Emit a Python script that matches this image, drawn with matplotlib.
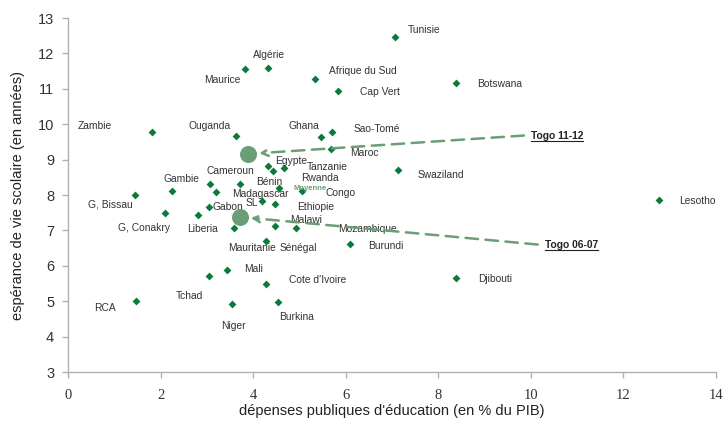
import matplotlib
matplotlib.use("Agg")
import matplotlib.pyplot as plt

# Country data: public education spending (% of GDP) vs school life expectancy (years)
countries = [
    "Tunisie", "Algérie", "Maurice", "Afrique du Sud", "Cap Vert", "Botswana",
    "Zambie", "Ouganda", "Ghana", "Sao-Tomé", "Maroc", "Cameroun", "Egypte",
    "Tanzanie", "Swaziland", "G, Bissau", "Gambie", "Rwanda", "Congo",
    "Madagascar", "Bénin", "Moyenne", "SL", "Ethiopie", "G, Conakry", "Liberia",
    "Gabon", "Mozambique", "Sénégal", "Malawi", "Mauritanie", "Burundi", "Mali",
    "Tchad", "Cote d'Ivoire", "RCA", "Niger", "Burkina", "Djibouti", "Lesotho",
]
spending = [
    7.06, 4.32, 3.82, 5.33, 5.83, 8.38,
    1.81, 3.63, 5.46, 5.70, 5.68, 4.32, 4.43,
    4.67, 7.13, 1.45, 2.25, 3.07, 3.20,
    3.71, 4.56, 5.06, 4.19, 4.47, 2.10, 2.81,
    3.05, 3.58, 4.47, 4.92, 4.27, 6.09, 3.43,
    3.05, 4.28, 1.47, 3.54, 4.54, 8.38, 12.76,
]
school_life = [
    12.47, 11.59, 11.56, 11.28, 10.94, 11.16,
    9.78, 9.67, 9.64, 9.78, 9.30, 8.82, 8.68,
    8.76, 8.71, 8.00, 8.11, 8.31, 8.08,
    8.31, 8.20, 8.11, 7.83, 7.74, 7.49, 7.44,
    7.66, 7.07, 7.12, 7.07, 6.70, 6.61, 5.88,
    5.71, 5.49, 5.01, 4.92, 4.98, 5.66, 7.86,
]
# Label offsets (pixels) from each marker
label_offsets = [
    (29, 7), (1, 13), (-22, -11), (48, 8), (42, -1), (44, -1),
    (-57, 6), (-26, 10), (-17, 11), (45, 3), (33, -4), (-38, -5), (18, 10),
    (43, 1), (43, -5), (-25, -9), (9, 12), (110, 6), (124, -1),
    (21, -10), (-10, 6), (8, 3), (-10, -2), (41, -3), (-21, -15), (4, -14),
    (19, 0), (134, -1), (23, -22), (10, 8), (-14, -7), (36, -2), (27, 1),
    (-20, -20), (52, 4), (-31, -7), (2, -22), (18, -15), (39, -1), (39, -1),
]

# Togo at two periods
togo_labels = ["Togo 06-07", "Togo 11-12"]
togo_spending = [3.71, 3.89]
togo_school_life = [7.38, 9.16]
togo_text_pos = [(10.3, 6.58), (10.0, 9.66)]

x_ticks = [0, 2, 4, 6, 8, 10, 12, 14]
y_ticks = [3, 4, 5, 6, 7, 8, 9, 10, 11, 12, 13]

sans = ["Liberation Sans", "DejaVu Sans"]
serif = ["Liberation Serif", "DejaVu Serif"]

fig = plt.figure(figsize=(7.28, 4.30), dpi=100)
ax = fig.add_axes([68 / 728, 58 / 430, 648 / 728, 354 / 430])

dark_green = "#0b7a3d"
soft_green = "#6a9e76"

ax.scatter(spending, school_life, marker="D", s=16, color=dark_green,
           linewidths=0, zorder=3)

for name, x, y, off in zip(countries, spending, school_life, label_offsets):
    if name == "Moyenne":
        ax.annotate(name, (x, y), xytext=off, textcoords="offset pixels",
                    ha="center", va="center", fontsize=5.5, fontweight="bold",
                    color=soft_green, family=sans, zorder=4)
    else:
        ax.annotate(name, (x, y), xytext=off, textcoords="offset pixels",
                    ha="center", va="center", fontsize=7.4, color="#333333",
                    family=sans, zorder=4)

ax.scatter(togo_spending, togo_school_life, s=150, color=soft_green,
           linewidths=0, zorder=5)

togo_texts = []
for label, x, y, (tx, ty) in zip(togo_labels, togo_spending, togo_school_life,
                                 togo_text_pos):
    ax.annotate("", xy=(x, y), xytext=(tx - 0.15, ty + 0.02),
                arrowprops=dict(arrowstyle="->", color=soft_green, lw=1.8,
                                linestyle=(0, (5, 3)), shrinkA=0, shrinkB=8,
                                mutation_scale=12),
                zorder=4)
    togo_texts.append(ax.text(tx, ty, label, ha="left", va="center",
                              fontsize=7.4, fontweight="bold", color="#222222",
                              family=sans))

ax.set_xlim(0, 14)
ax.set_ylim(3, 13)

# underline the Togo labels
fig.canvas.draw()
renderer = fig.canvas.get_renderer()
inv = ax.transData.inverted()
for txt in togo_texts:
    bb = txt.get_window_extent(renderer)
    (x0, y0), (x1, _) = inv.transform([(bb.x0, bb.y0 + 0.5), (bb.x1, bb.y0)])
    ax.plot([x0, x1], [y0, y0], color="#222222", lw=0.8, zorder=4)

ax.set_xlim(0, 14)
ax.set_ylim(3, 13)
ax.set_xticks(x_ticks)
ax.set_yticks(y_ticks)
ax.set_xticklabels([str(v) for v in x_ticks], family=serif, fontsize=10.5,
                   color="#333333")
ax.set_yticklabels([str(v) for v in y_ticks], family=sans, fontsize=10.5,
                   color="#333333")

for side in ("top", "right"):
    ax.spines[side].set_visible(False)
for side in ("left", "bottom"):
    ax.spines[side].set_color("#b0b0b0")
    ax.spines[side].set_linewidth(1.0)
ax.tick_params(axis="both", direction="out", length=4, color="#b0b0b0",
               width=1.0)
ax.tick_params(axis="x", pad=8)
ax.tick_params(axis="y", pad=6)

ax.set_xlabel("dépenses publiques d'éducation (en % du PIB)", family=sans,
              fontsize=10.5, color="#222222", labelpad=2)
ax.set_ylabel("espérance de vie scolaire (en années)", family=sans,
              fontsize=10.5, color="#222222", labelpad=9)

fig.savefig("out.png", dpi=100)
